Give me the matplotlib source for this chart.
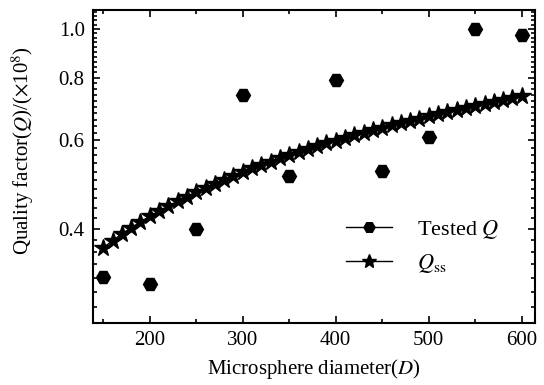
import matplotlib
matplotlib.use('Agg')
import matplotlib.pyplot as plt
from matplotlib.lines import Line2D
from matplotlib.ticker import FixedLocator, NullFormatter
import numpy as np

# tested quality factor (x 1e8)
tested_d = [150, 200, 250, 300, 350, 400, 450, 500, 550, 600]
tested_q = [0.321, 0.311, 0.400, 0.740, 0.510, 0.790, 0.522, 0.610, 1.000, 0.970]

# Qss curve (x 1e8)
qss_d = list(range(150, 601, 10))
qss_q = [0.367, 0.379, 0.391, 0.402, 0.413, 0.424, 0.434, 0.444, 0.454, 0.464,
         0.474, 0.483, 0.492, 0.501, 0.510, 0.519, 0.528, 0.536, 0.544, 0.553,
         0.561, 0.569, 0.576, 0.584, 0.592, 0.599, 0.607, 0.614, 0.621, 0.629,
         0.636, 0.643, 0.650, 0.657, 0.663, 0.670, 0.677, 0.683, 0.690, 0.696,
         0.703, 0.709, 0.715, 0.722, 0.728, 0.734]

y_major = [0.4, 0.6, 0.8, 1.0]
y_labels = ['0.4', '0.6', '0.8', '1.0']
x_major = [200, 300, 400, 500, 600]

plt.rcParams['font.family'] = ['Liberation Serif', 'DejaVu Serif']
plt.rcParams['mathtext.fontset'] = 'stix'

fig = plt.figure(figsize=(5.44, 3.85), dpi=100)
ax = fig.add_axes([0.171, 0.161, 0.812, 0.813])

ax.plot(qss_d, qss_q, color='black', linewidth=1.0, marker='*', markersize=13, zorder=3)
ax.plot(tested_d, tested_q, linestyle='none', color='black', marker='H', markersize=10, zorder=4)

ax.set_yscale('log')
ax.set_xlim(139, 614)
ax.set_ylim(0.26, 1.09)

ax.yaxis.set_major_locator(FixedLocator(y_major))
ax.set_yticklabels(y_labels)
ax.yaxis.set_minor_locator(FixedLocator(np.round(np.arange(0.26, 1.09, 0.02), 2)))
ax.yaxis.set_minor_formatter(NullFormatter())
ax.xaxis.set_major_locator(FixedLocator(x_major))
ax.xaxis.set_minor_locator(FixedLocator([150, 250, 350, 450, 550]))

ax.tick_params(which='both', direction='in', top=True, right=True, labelsize=15, width=1.2)
ax.tick_params(which='major', length=5, pad=6)
ax.tick_params(which='minor', length=3)
for s in ax.spines.values():
    s.set_linewidth(1.5)

ax.set_xlabel('Microsphere diameter($\\mathit{D}$)', fontsize=15, labelpad=5)
ax.set_ylabel('Quality factor($\\mathit{Q}$)/($\\times$10$^8$)', fontsize=15)
ax.yaxis.set_label_coords(-0.13, 0.55)

handles = [Line2D([], [], color='black', linewidth=1.0, marker='H', markersize=8),
           Line2D([], [], color='black', linewidth=1.0, marker='*', markersize=10)]
ax.legend(handles, ['Tested $\\mathit{Q}$', '$\\mathit{Q}_{\\mathrm{ss}}$'],
          loc='lower right', bbox_to_anchor=(0.965, 0.09), frameon=False,
          fontsize=16, handlelength=2.1, handletextpad=1.1, labelspacing=0.5)

fig.savefig('out.png', dpi=100)
